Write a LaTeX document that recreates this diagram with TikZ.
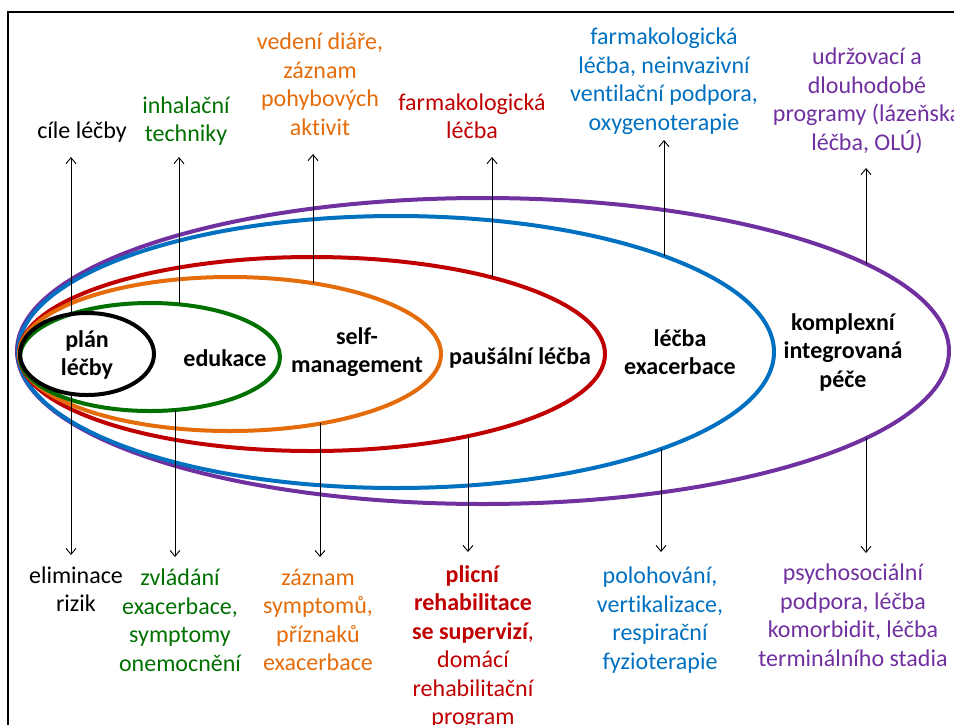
\documentclass[tikz,border=0pt]{standalone}
\usepackage{fontspec}
\setmainfont{Carlito}[Ligatures=NoCommon]
\usetikzlibrary{arrows.meta}

\definecolor{zelena}{RGB}{0,112,0}
\definecolor{oranzova}{RGB}{228,108,10}
\definecolor{cervena}{RGB}{192,0,0}
\definecolor{modra}{RGB}{0,112,192}
\definecolor{fialova}{RGB}{112,48,160}

\tikzset{
  ring/.style={line width=4pt},
  popis/.style={align=center, inner sep=0pt, font=\fontsize{24}{28.5}\selectfont},
  vnitrni/.style={align=center, inner sep=0pt, font=\fontsize{24}{28.5}\selectfont\bfseries},
  sipka/.style={-{Straight Barb[length=6pt,width=10pt]}, line width=0.9pt},
}

\begin{document}
\begin{tikzpicture}[x=1pt,y=-1pt]
    % Fix the page to the size of the slide crop
    \useasboundingbox (0,0) rectangle (954,724);

    % Frame of the slide
    \draw[line width=2pt] (960,12) -- (8,12) -- (8,730);

    % Draw the nested ellipses, largest first
    \draw[ring,fialova] (483,351) ellipse [x radius=466pt, y radius=153pt];
    \draw[ring,modra] (396,352) ellipse [x radius=378pt, y radius=136pt];
    \draw[ring,cervena] (312,354) ellipse [x radius=293pt, y radius=97pt];
    \draw[ring,oranzova] (230,354) ellipse [x radius=211pt, y radius=77pt];
    \draw[ring,zelena] (150,357) ellipse [x radius=130pt, y radius=54pt];
    \draw[ring,black] (87,354) ellipse [x radius=67pt, y radius=41pt];

    % Labels inside the ellipses
    \node (plan) at (87,355) [vnitrni] {plán\\léčby};
    \node (edu) at (225,358) [vnitrni] {edukace};
    \node (self) at (357,352) [vnitrni] {self-\\management};
    \node (paus) at (520,358) [vnitrni] {paušální léčba};
    \node (exac) at (680,352) [vnitrni] {léčba\\exacerbace};
    \node (kompl) at (843,352) [vnitrni] {komplexní\\integrovaná\\péče};

    % Labels above
    \node (cile) at (82,132) [popis] {cíle léčby};
    \node (inhal) at (186,121) [popis,zelena] {inhalační\\techniky};
    \node (vedeni) at (320,84) [popis,oranzova] {vedení diáře,\\záznam\\pohybových\\aktivit};
    \node (farm) at (472,116) [popis,cervena] {farmakologická\\léčba};
    \node (farmB) at (664,81) [popis,modra] {farmakologická\\léčba, neinvazivní\\ventilační podpora,\\oxygenoterapie};
    \node (udrz) at (867,101) [popis,fialova] {udržovací a\\dlouhodobé\\programy (lázeňská\\léčba, OLÚ)};

    % Labels below
    \node (elim) at (76,589) [popis] {eliminace\\rizik};
    \node (zvlad) at (180,620) [popis,zelena] {zvládání\\exacerbace,\\symptomy\\onemocnění};
    \node (zazn) at (318,620) [popis,oranzova] {záznam\\symptomů,\\příznaků\\exacerbace};
    \node (plicni) at (473,647) [popis,cervena] {\textbf{plicní}\\\textbf{rehabilitace}\\\textbf{se supervizí},\\domácí\\rehabilitační\\program};
    \node (poloh) at (660,620) [popis,modra] {polohování,\\vertikalizace,\\respirační\\fyzioterapie};
    \node (psycho) at (853,615) [popis,fialova] {psychosociální\\podpora, léčba\\komorbidit, léčba\\terminálního stadia};

    % Points on the ellipses where the arrows start
    \coordinate (planN) at (71,314);   \coordinate (planS) at (71,394);
    \coordinate (eduN) at (179,304);   \coordinate (eduS) at (175,410);
    \coordinate (selfN) at (313,283);  \coordinate (selfS) at (320,423);
    \coordinate (pausN) at (492,277);  \coordinate (pausS) at (468,436);
    \coordinate (exacN) at (664,256);  \coordinate (exacS) at (661,449);
    \coordinate (komplN) at (866,264); \coordinate (komplS) at (866,438);

    % Arrow tips
    \coordinate (cileT) at (71,157);   \coordinate (elimT) at (71,555);
    \coordinate (inhalT) at (179,157); \coordinate (zvladT) at (175,557);
    \coordinate (vedeniT) at (313,154); \coordinate (zaznT) at (320,557);
    \coordinate (farmT) at (492,157);  \coordinate (plicniT) at (468,552);
    \coordinate (farmBT) at (664,140); \coordinate (polohT) at (661,552);
    \coordinate (udrzT) at (866,168);  \coordinate (psychoT) at (866,553);

    % Draw the arrows
    \draw[sipka] (planN) -- (cileT);
    \draw[sipka] (planS) -- (elimT);
    \draw[sipka] (eduN) -- (inhalT);
    \draw[sipka] (eduS) -- (zvladT);
    \draw[sipka] (selfN) -- (vedeniT);
    \draw[sipka] (selfS) -- (zaznT);
    \draw[sipka] (pausN) -- (farmT);
    \draw[sipka] (pausS) -- (plicniT);
    \draw[sipka] (exacN) -- (farmBT);
    \draw[sipka] (exacS) -- (polohT);
    \draw[sipka] (komplN) -- (udrzT);
    \draw[sipka] (komplS) -- (psychoT);
\end{tikzpicture}
\end{document}
